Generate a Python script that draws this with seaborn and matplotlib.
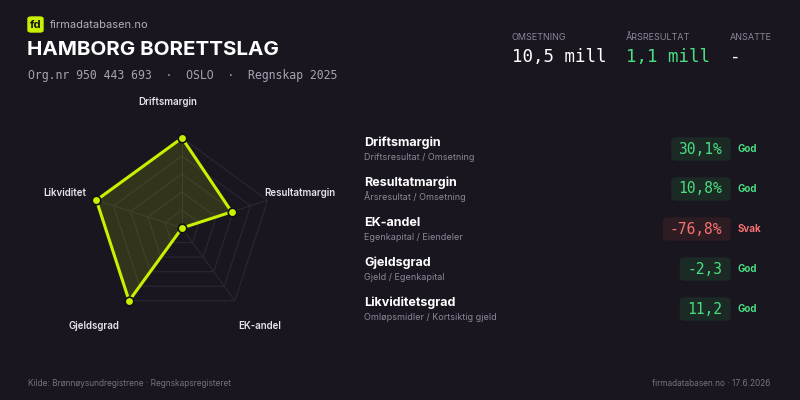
import numpy as np
import pandas as pd
import seaborn as sns
import matplotlib.pyplot as plt
from matplotlib.patches import FancyBboxPatch

axes_labels = ["Driftsmargin", "Resultatmargin", "EK-andel", "Gjeldsgrad", "Likviditet"]
radar_scores = [1.0, 0.58, 0.0, 1.0, 1.0]  # normalised 0..1

metric_names = ["Driftsmargin", "Resultatmargin", "EK-andel", "Gjeldsgrad", "Likviditetsgrad"]
metric_formulas = ["Driftsresultat / Omsetning", "Årsresultat / Omsetning", "Egenkapital / Eiendeler",
                   "Gjeld / Egenkapital", "Omløpsmidler / Kortsiktig gjeld"]
metric_values = ["30,1%", "10,8%", "-76,8%", "-2,3", "11,2"]
metric_status = ["God", "God", "Svak", "God", "God"]

kpi_labels = ["OMSETNING", "ÅRSRESULTAT", "ANSATTE"]
kpi_values = ["10,5 mill", "1,1 mill", "-"]

BG = "#1a1620"
LIME = "#c8f000"
GOOD = "#4ade80"
BAD = "#f87171"
GRAY = "#8d8797"

sns.set_theme(style="dark")
plt.rcParams["font.family"] = ["Inter", "DejaVu Sans"]
MONO = ["DejaVu Sans Mono"]

fig = plt.figure(figsize=(8, 4), dpi=100, facecolor=BG)

# ---- header ----
fig.patches.append(FancyBboxPatch((28 / 800, 1 - 32 / 400), 15 / 800, 15 / 400,
                                  boxstyle="round,pad=0,rounding_size=0.004",
                                  transform=fig.transFigure, color=LIME))
fig.text(35.5 / 800, 1 - 24.5 / 400, "fd", color="#111", fontsize=8, fontweight="bold",
         ha="center", va="center")
fig.text(50 / 800, 1 - 24.5 / 400, "firmadatabasen.no", color="#b3adbb", fontsize=8, va="center")
fig.text(27 / 800, 1 - 50 / 400, "HAMBORG BORETTSLAG", color="white", fontsize=14.8,
         fontweight="bold", va="center")
fig.text(28 / 800, 1 - 75 / 400, "Org.nr 950 443 693  ·  OSLO  ·  Regnskap 2025", color="#a9a3b1",
         fontsize=8.3, family=MONO, va="center")

kpi_x = [512, 626, 730]
kpi_colors = ["white", GOOD, "white"]
for x, lab, val, col in zip(kpi_x, kpi_labels, kpi_values, kpi_colors):
    fig.text(x / 800, 1 - 37 / 400, lab, color=GRAY, fontsize=6.5, va="center")
    fig.text(x / 800, 1 - 57 / 400, val, color=col, fontsize=12.6, family=MONO, va="center")

# ---- radar ----
ax = fig.add_axes([(182 - 90) / 800, (172 - 90) / 400, 180 / 800, 180 / 400], polar=True)
ax.set_facecolor("none")
ax.set_theta_offset(np.pi / 2)
ax.set_theta_direction(-1)
n = len(axes_labels)
theta = np.linspace(0, 2 * np.pi, n, endpoint=False)
ax.set_ylim(0, 1)
ax.grid(False)
ax.spines["polar"].set_visible(False)
ax.set_xticks([])
ax.set_yticks([])

tt = np.append(theta, 2 * np.pi)
for lvl in [0.2, 0.4, 0.6, 0.8, 1.0]:
    ax.plot(tt, [lvl] * (n + 1), color="#2b2733", lw=0.8, zorder=1)
for t in theta:
    ax.plot([t, t], [0, 1], color="#2b2733", lw=0.8, zorder=1)

radar = pd.DataFrame({"theta": tt, "score": radar_scores + radar_scores[:1]})
ax.fill(radar["theta"], radar["score"], color=LIME, alpha=0.14, zorder=2, lw=0)
sns.lineplot(data=radar, x="theta", y="score", ax=ax, color=LIME, lw=2.2, sort=False,
             estimator=None, zorder=3)
ax.scatter(theta, radar_scores, s=38, color=LIME, edgecolor="#111", linewidth=1.2, zorder=4,
           clip_on=False)
ax.set_xlabel("")
ax.set_ylabel("")

label_pos = [(168, 102, "center"), (264, 193, "left"), (238, 326, "left"),
             (119, 326, "right"), (86, 193, "right")]
for lab, (x, y, ha) in zip(axes_labels, label_pos):
    fig.text(x / 800, 1 - y / 400, lab, color="#e6e3ea", fontsize=7, fontweight="semibold",
             ha=ha, va="center")

# ---- metric list ----
for i, (name, form, val, stat) in enumerate(zip(metric_names, metric_formulas, metric_values,
                                                  metric_status)):
    y = 143 + i * 40
    col = GOOD if stat == "God" else BAD
    box_fc = "#1c2a26" if stat == "God" else "#2e1c23"
    fig.text(364 / 800, 1 - y / 400, name, color="white", fontsize=9, fontweight="bold", va="center")
    fig.text(364 / 800, 1 - (y + 14) / 400, form, color=GRAY, fontsize=6.5, va="center")
    width_px = 8.4 * len(val) + 16
    fig.patches.append(FancyBboxPatch(((730 - width_px) / 800, 1 - (y + 17) / 400),
                                      width_px / 800, 22 / 400,
                                      boxstyle="round,pad=0,rounding_size=0.006",
                                      transform=fig.transFigure, color=box_fc))
    fig.text(722 / 800, 1 - (y + 6) / 400, val, color=col, fontsize=10.5, family=MONO,
             ha="right", va="center")
    fig.text(738 / 800, 1 - (y + 6) / 400, stat, color=col, fontsize=7, fontweight="bold",
             va="center")

# ---- footer ----
fig.text(28 / 800, 1 - 383 / 400, "Kilde: Brønnøysundregistrene · Regnskapsregisteret",
         color="#77717f", fontsize=6, va="center")
fig.text(770 / 800, 1 - 383 / 400, "firmadatabasen.no · 17.6.2026", color="#77717f",
         fontsize=6, ha="right", va="center")

fig.savefig("out.png", dpi=100, facecolor=BG)
